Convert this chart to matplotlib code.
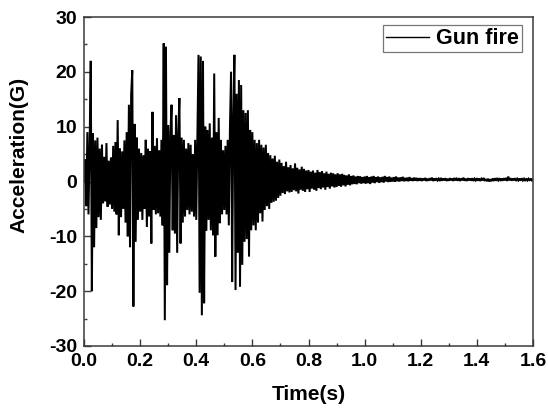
import numpy as np
import matplotlib
matplotlib.use("Agg")
import matplotlib.pyplot as plt

# ---- data ----
sample_interval = 0.004  # s
acceleration = [
    # 0.000 - 0.096 s
    0.0, 4.0, -4.5, 9.0, -6.0, 6.5, 22.0, -20.0, 8.8, -12.0, 7.5, -8.5, 8.0,
    -6.5, 6.0, -7.0, 6.7, -4.0, 4.5, -3.6, 7.0, -4.6, 3.8, -4.2, 4.4,
    # 0.100 - 0.196 s
    -5.0, 6.5, -5.5, 7.2, -6.0, 11.2, -9.8, 6.0, -6.5, 5.5, -5.0, 7.5, -7.5,
    9.0, -10.0, 14.0, -12.0, 15.8, 20.3, -22.8, 10.5, -11.0, 8.0, -7.0, 6.0,
    # 0.200 - 0.296 s
    -5.5, 5.2, -7.0, 4.8, -5.0, 7.6, -8.3, 6.0, -6.4, 5.5, -11.3, 12.7, -5.2,
    6.5, -6.0, 7.9, -5.8, 5.7, -6.4, 7.6, -8.0, 25.2, -25.3, 24.6, -18.9,
    # 0.300 - 0.396 s
    10.3, -13.0, 9.0, 14.0, -8.9, 8.5, -9.5, 12.1, -13.0, 9.0, 15.2, -11.3, 8.0,
    -7.5, 7.6, -6.4, 6.0, -5.2, 7.0, -6.0, 6.7, -5.5, 5.0, -6.4, 7.6,
    # 0.400 - 0.496 s
    -7.0, 8.0, 23.1, -20.3, 22.8, -24.4, 22.0, -22.2, 10.0, -9.0, 9.4, -7.0, 10.6,
    -8.9, 8.0, -9.8, 19.7, -13.7, 9.0, -9.8, 11.6, -7.6, 7.6, -6.0, 5.7,
    # 0.500 - 0.596 s
    -5.2, 6.5, -6.0, 7.6, -8.0, 9.5, 20.0, -18.3, 12.0, 23.1, -19.8, 16.0, -13.0,
    18.5, -19.2, 17.6, -15.2, 13.0, -11.0, 12.5, -10.5, 13.0, -13.7, 9.4, -8.9,
    # 0.600 - 0.696 s
    9.0, -8.0, 7.6, -8.9, 7.0, -7.5, 7.6, -5.8, 6.7, -7.3, 6.2, -5.2, 6.7,
    -4.5, 5.2, -5.0, 4.8, -3.9, 4.2, -3.7, 4.7, -3.5, 3.6, -3.0, 4.0,
    # 0.700 - 0.796 s
    -2.6, 3.4, -2.1, 2.8, -2.3, 3.6, -1.8, 2.6, -2.0, 3.0, -1.9, 2.4, -1.6,
    3.3, -1.8, 2.5, -2.2, 2.2, -1.5, 2.7, -1.7, 2.3, -1.9, 2.0, -1.4,
    # 0.800 - 0.896 s
    2.1, -1.9, 1.8, -1.3, 2.0, -1.5, 1.6, -1.7, 2.1, -1.2, 1.7, -1.4, 1.9,
    -1.1, 1.5, -1.5, 1.8, -1.0, 1.4, -1.3, 1.6, -0.9, 1.5, -1.1, 1.3,
    # 0.900 - 0.996 s
    -1.0, 1.5, -0.8, 1.3, -0.95, 1.4, -0.7, 1.2, -0.9, 1.1, -0.6, 1.3, -0.7,
    1.0, -0.5, 1.1, -0.45, 0.9, -0.5, 1.0, -0.3, 0.95, -0.4, 0.8, -0.3,
    # 1.000 - 1.096 s
    0.9, -0.4, 1.0, -0.3, 0.8, -0.45, 0.9, -0.2, 1.0, -0.3, 0.8, -0.1, 0.9,
    -0.25, 0.75, -0.1, 0.85, -0.2, 1.0, 0.0, 0.8, -0.1, 0.9, -0.05, 0.7,
    # 1.100 - 1.196 s
    0.0, 0.8, -0.05, 0.9, 0.05, 0.7, 0.0, 0.75, 0.1, 0.85, 0.05, 0.65, 0.1,
    0.7, 0.05, 0.8, 0.15, 0.6, 0.1, 0.7, 0.15, 0.65, 0.1, 0.6, 0.15,
    # 1.200 - 1.296 s
    0.6, 0.1, 0.55, 0.2, 0.65, 0.1, 0.5, 0.15, 0.6, 0.2, 0.7, 0.1, 0.55,
    0.15, 0.6, 0.2, 0.5, 0.1, 0.65, 0.15, 0.55, 0.2, 0.6, 0.1, 0.5,
    # 1.300 - 1.396 s
    0.15, 0.6, 0.2, 0.55, 0.1, 0.65, 0.2, 0.5, 0.15, 0.6, 0.1, 0.55, 0.2,
    0.7, 0.15, 0.5, 0.1, 0.6, 0.2, 0.55, 0.15, 0.6, 0.1, 0.5, 0.2,
    # 1.400 - 1.496 s
    0.6, 0.15, 0.55, 0.1, 0.5, 0.2, 0.65, 0.1, 0.45, 0.05, 0.5, 0.0, 0.4,
    0.05, 0.55, 0.1, 0.6, 0.15, 0.5, 0.2, 0.6, 0.1, 0.55, 0.15, 0.6,
    # 1.500 - 1.600 s
    0.2, 0.65, 0.1, 0.9, 0.2, 0.6, 0.15, 0.55, 0.2, 0.6, 0.1, 0.5, 0.2,
    0.55, 0.15, 0.6, 0.2, 0.5, 0.1, 0.55, 0.2, 0.5, 0.15, 0.55, 0.2, 0.35,
]
series_label = "Gun fire"
x_ticks = [0.0, 0.2, 0.4, 0.6, 0.8, 1.0, 1.2, 1.4, 1.6]
x_tick_labels = ["0.0", "0.2", "0.4", "0.6", "0.8", "1.0", "1.2", "1.4", "1.6"]
y_ticks = [-30, -20, -10, 0, 10, 20, 30]
y_tick_labels = ["-30", "-20", "-10", "0", "10", "20", "30"]
x_label = "Time(s)"
y_label = "Acceleration(G)"

time = np.arange(len(acceleration)) * sample_interval

# ---- figure ----
plt.rcParams['font.family'] = ['Liberation Sans', 'DejaVu Sans']
plt.rcParams['font.weight'] = 'bold'

fig = plt.figure(figsize=(5.48, 4.08), dpi=100)
ax = fig.add_axes([84 / 548, 1 - 346 / 408, 449 / 548, 329 / 408])

ax.plot(time, acceleration, color='black', linewidth=1.45, label=series_label,
        solid_joinstyle='miter')

ax.set_xlim(0.0, 1.6)
ax.set_ylim(-30, 30)
ax.set_xticks(x_ticks)
ax.set_xticklabels(x_tick_labels)
ax.set_yticks(y_ticks)
ax.set_yticklabels(y_tick_labels)
ax.set_xticks(np.arange(0.1, 1.6, 0.2), minor=True)
ax.set_yticks(np.arange(-25, 30, 10), minor=True)

frame_color = '#3a3a3a'
for sp in ax.spines.values():
    sp.set_color(frame_color)
    sp.set_linewidth(1.1)

ax.tick_params(axis='both', which='major', direction='in', length=5, width=1.0,
               color=frame_color, labelsize=14, labelcolor='black')
ax.tick_params(axis='both', which='minor', direction='in', length=2.5, width=1.0,
               color=frame_color)
ax.tick_params(axis='x', which='major', pad=5)
ax.tick_params(axis='y', which='major', pad=5)
for lbl in ax.get_xticklabels() + ax.get_yticklabels():
    lbl.set_fontweight('bold')

ax.set_xlabel(x_label, fontsize=15, fontweight='bold')
ax.set_ylabel(y_label, fontsize=15, fontweight='bold')
ax.xaxis.set_label_coords(0.5, -0.146)
ax.xaxis.label.set_verticalalignment('center')
ax.yaxis.set_label_coords(-0.1437, 0.58)
ax.yaxis.label.set_verticalalignment('center')

leg = ax.legend(loc='upper right', bbox_to_anchor=((522 - 84) / 449, (346 - 25) / 329),
                borderaxespad=0.0, frameon=True, fancybox=False,
                prop={'weight': 'bold', 'size': 15.5},
                handlelength=2.0, handletextpad=0.3, borderpad=0.15)
leg.get_frame().set_edgecolor('#555555')
leg.get_frame().set_linewidth(0.9)
for line in leg.get_lines():
    line.set_linewidth(1.0)

fig.savefig("out.png", dpi=100)
